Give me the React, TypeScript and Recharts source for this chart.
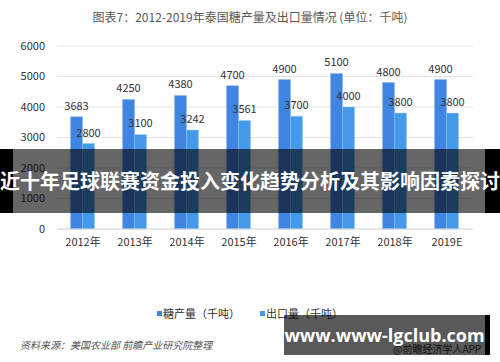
import React from 'react';
import { BarChart, Bar, XAxis, YAxis, CartesianGrid, Legend, LabelList } from 'recharts';

const years = ['2012年', '2013年', '2014年', '2015年', '2016年', '2017年', '2018年', '2019E'];
const sugarOutput = [3683, 4250, 4380, 4700, 4900, 5100, 4800, 4900];
const exportVolume = [2800, 3100, 3242, 3561, 3700, 4000, 3800, 3800];
const yTicks = [0, 1000, 2000, 3000, 4000, 5000, 6000];
const seriesNames = ['糖产量（千吨）', '出口量（千吨）'];

const data = years.map((y, i) => ({ year: y, sugar: sugarOutput[i], export: exportVolume[i] }));

const FONT = '"Noto Sans CJK SC", "Noto Sans", sans-serif';
const C_SUGAR = '#4185E3';
const C_EXPORT = '#4499E8';

const renderLegend = (props: any) => {
  const payload = [...(props.payload || [])].sort(
    (a: any, b: any) => seriesNames.indexOf(a.value) - seriesNames.indexOf(b.value)
  );
  return (
    <div style={{ display: 'flex', justifyContent: 'center', fontFamily: FONT, fontSize: 11, color: '#333' }}>
      {payload.map((p: any, i: number) => (
        <div key={i} style={{ display: 'flex', alignItems: 'center', marginRight: i === 0 ? 20 : 0 }}>
          <span style={{ display: 'inline-block', width: 5, height: 5, background: p.color, marginRight: 1 }} />
          <span>{p.value}</span>
        </div>
      ))}
    </div>
  );
};

export default function App() {
  return (
    <div style={{ position: 'absolute', left: 0, top: 0, width: 500, height: 362, background: '#fff', overflow: 'hidden', fontFamily: FONT }}>
      <div style={{ position: 'absolute', top: 8, left: 0, width: 500, textAlign: 'center', fontSize: 12, color: '#595959', whiteSpace: 'nowrap' }}>
        图表7：2012-2019年泰国糖产量及出口量情况 (单位：千吨)
      </div>
      <BarChart width={500} height={362} data={data} margin={{ top: 46, right: 27, bottom: 87, left: 0 }} barGap={0} barCategoryGap="26%">
        <CartesianGrid vertical={false} stroke="#e3e3e3" />
        <XAxis dataKey="year" tickLine={false} axisLine={{ stroke: '#d9d9d9' }} tick={{ fontSize: 11, fill: '#333', fontFamily: FONT }} tickMargin={3} />
        <YAxis domain={[0, 6000]} ticks={yTicks} width={57} tickLine={false} axisLine={false} tick={{ fontSize: 11, fill: '#333', fontFamily: FONT }} tickMargin={6} />
        <Legend content={renderLegend} wrapperStyle={{ top: 305, left: 0, width: 500 }} />
        <Bar dataKey="sugar" name={seriesNames[0]} fill={C_SUGAR} stroke="#8fb8f0" strokeWidth={0.5} isAnimationActive={false}>
          <LabelList dataKey="sugar" position="top" offset={7} style={{ fontSize: 11, fill: '#333', fontFamily: FONT }} />
        </Bar>
        <Bar dataKey="export" name={seriesNames[1]} fill={C_EXPORT} stroke="#9cc9f2" strokeWidth={0.5} isAnimationActive={false}>
          <LabelList dataKey="export" position="top" offset={7} style={{ fontSize: 11, fill: '#333', fontFamily: FONT }} />
        </Bar>
      </BarChart>
      <div style={{ position: 'absolute', top: 337, left: 20, fontSize: 10, color: '#555', fontStyle: 'italic', whiteSpace: 'nowrap' }}>
        资料来源：美国农业部 前瞻产业研究院整理
      </div>
      <div style={{ position: 'absolute', top: 341, left: 393, fontSize: 10, color: '#333', whiteSpace: 'nowrap' }}>
        @前瞻经济学人APP
      </div>
      {/* banner overlay */}
      <div style={{ position: 'absolute', top: 149, left: 0, width: 13, height: 64, background: '#000' }} />
      <div style={{ position: 'absolute', top: 149, left: 13, width: 472, height: 64, background: 'rgba(0,0,0,0.6)' }} />
      <div style={{ position: 'absolute', top: 149, left: 485, width: 15, height: 64, background: '#000' }} />
      <div style={{ position: 'absolute', top: 149, left: 0, width: 500, height: 64, display: 'flex', alignItems: 'center', justifyContent: 'center', color: '#fff', fontWeight: 'bold', fontSize: 20, whiteSpace: 'nowrap', lineHeight: 1 }}>
        近十年足球联赛资金投入变化趋势分析及其影响因素探讨
      </div>
      {/* bottom watermark box */}
      <div style={{ position: 'absolute', top: 315, left: 284, width: 201, height: 40, background: 'rgba(0,0,0,0.65)' }} />
      <div style={{ position: 'absolute', top: 315, left: 485, width: 5, height: 40, background: '#000' }} />
      <div style={{ position: 'absolute', top: 315, left: 284, width: 201, height: 40, display: 'flex', alignItems: 'center', justifyContent: 'center', color: '#fff', fontWeight: 'bold', fontSize: 18, whiteSpace: 'nowrap', lineHeight: 1, fontFamily: '"Open Sans", "Noto Sans", sans-serif' }}>
        www.www-lgclub.com
      </div>
    </div>
  );
}
